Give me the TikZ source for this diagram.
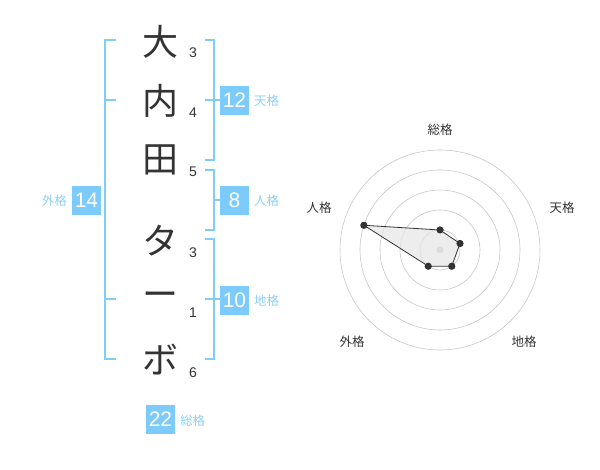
\documentclass[tikz,border=0pt]{standalone}
\usepackage{fontspec}
\setmainfont{Liberation Sans}
\newfontfamily\cjk{Noto Sans CJK JP}
\definecolor{brk}{HTML}{80CCFA}
\definecolor{boxc}{HTML}{7DCBFC}
\definecolor{lbl}{HTML}{8ED0F7}
\definecolor{ink}{HTML}{333333}
\begin{document}
\begin{tikzpicture}[x=1pt,y=-1pt,
  kanji/.style={font=\cjk\fontsize{36}{36}\selectfont, text=ink, inner sep=0pt},
  stroke/.style={font=\fontsize{14}{14}\selectfont, text=ink, inner sep=0pt},
  numbox/.style={fill=boxc, text=white, minimum width=29pt, minimum height=29pt, inner sep=0pt, font=\fontsize{21}{21}\selectfont},
  kaku/.style={font=\cjk\fontsize{12.5}{12.5}\selectfont, text=lbl, inner sep=0pt},
  bracket/.style={draw=brk, line width=2pt},
  ring/.style={draw=black!22, line width=0.6pt},
  rlabel/.style={font=\cjk\fontsize{12.5}{12.5}\selectfont, text=ink, inner sep=0pt},
  dot/.style={circle, fill=ink, inner sep=0pt, minimum size=7pt}]
\useasboundingbox (0,0) rectangle (600,470);
% characters
\node[kanji] (c1) at (160,42) {大};
\node[kanji] (c2) at (160,101) {内};
\node[kanji] (c3) at (160,160) {田};
\node[kanji] (c4) at (160,241) {タ};
\node[kanji] (c5) at (160,300) {ー};
\node[kanji] (c6) at (160,360) {ボ};
% stroke counts
\node[stroke] (s1) at (193,53) {3};
\node[stroke] (s2) at (193,113) {4};
\node[stroke] (s3) at (193,172) {5};
\node[stroke] (s4) at (193,253) {3};
\node[stroke] (s5) at (193,313) {1};
\node[stroke] (s6) at (193,373) {6};
% outer bracket (gaikaku)
\draw[bracket] (116,40) -- (105,40) -- (105,359) -- (116,359);
\draw[bracket] (105,100) -- (116,100);
\draw[bracket] (105,299) -- (116,299);
% tenkaku
\draw[bracket] (205,40) -- (214,40) -- (214,160) -- (205,160);
\draw[bracket] (205,100) -- (220,100);
% jinkaku
\draw[bracket] (205,170) -- (214,170) -- (214,230) -- (205,230);
\draw[bracket] (214,200) -- (220,200);
% chikaku
\draw[bracket] (205,239) -- (214,239) -- (214,359) -- (205,359);
\draw[bracket] (205,299) -- (220,299);
% boxes
\node[numbox] (b12) at (234.5,100.5) {12};
\node[kaku, anchor=west] (l12) at (254,101) {天格};
\node[numbox] (b8) at (234.5,200.5) {8};
\node[kaku, anchor=west] (l8) at (254,201) {人格};
\node[numbox] (b10) at (234.5,300.5) {10};
\node[kaku, anchor=west] (l10) at (254,301) {地格};
\node[numbox] (b14) at (86.5,200.5) {14};
\node[kaku, anchor=east] (l14) at (67,201) {外格};
\node[numbox] (b22) at (160.5,419.5) {22};
\node[kaku, anchor=west] (l22) at (180,421) {総格};
% radar chart
\coordinate (ctr) at (440,250);
\foreach \r in {20,40,60,80,100} \draw[ring] (ctr) circle[radius=\r];
\fill[black!22] (ctr) circle[radius=3.5];
\path (ctr) ++(-90:20) node[dot] (p1) {};
\path (ctr) ++(-18:21) node[dot] (p2) {};
\path (ctr) ++(54:20) node[dot] (p3) {};
\path (ctr) ++(126:20) node[dot] (p4) {};
\path (ctr) ++(-162:80) node[dot] (p5) {};
\fill[black!10, opacity=0.7] (p1.center) -- (p2.center) -- (p3.center) -- (p4.center) -- (p5.center) -- cycle;
\draw[ink, line width=0.8pt] (p1.center) -- (p2.center) -- (p3.center) -- (p4.center) -- (p5.center) -- cycle;
\foreach \p in {p1,p2,p3,p4,p5} \fill[ink] (\p) circle[radius=3.5];
\node[rlabel] (r1) at (440,130) {総格};
\node[rlabel] (r2) at (562,208) {天格};
\node[rlabel] (r3) at (524,342) {地格};
\node[rlabel] (r4) at (352,342) {外格};
\node[rlabel] (r5) at (319,208) {人格};
\end{tikzpicture}
\end{document}
